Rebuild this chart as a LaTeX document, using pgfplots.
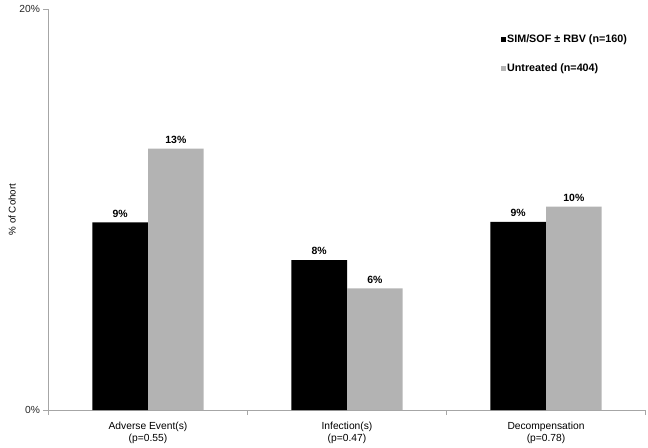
\documentclass[border=0pt]{standalone}
\usepackage{pgfplots}
\pgfplotsset{compat=1.18}
\usepackage{fontspec}
\setmainfont{Liberation Sans}
\definecolor{untreated}{RGB}{179,179,179}
\definecolor{axisgrey}{RGB}{166,166,166}

\begin{document}
\begin{tikzpicture}
\path[use as bounding box] (0,0) rectangle (648bp,448bp);
\begin{axis}[
  at={(48.5bp,38bp)}, anchor=south west,
  scale only axis,
  width=597bp, height=401bp,
  xmin=0.5, xmax=3.5,
  ymin=0, ymax=20,
  axis lines=left,
  axis line style={-, axisgrey},
  ybar=0pt, bar width=0.28,
  ytick={0,20}, yticklabels={0\%,20\%},
  xtick={0.5,1.5,2.5,3.5}, xticklabels={},
  extra x ticks={1,2,3},
  extra x tick labels={{Adverse Event(s)\\(p=0.55)},{Infection(s)\\(p=0.47)},{Decompensation\\(p=0.78)}},
  extra x tick style={tick style={draw=none}, tick label style={align=center, yshift=-4bp, font=\fontsize{10.3}{12}\selectfont}},
  tick align=outside,
  major tick length=5bp,
  tick style={axisgrey},
  yticklabel style={font=\fontsize{10.3}{12}\selectfont, text=black!85},
  ylabel={\% of Cohort},
  every axis y label/.style={at={(axis description cs:-0.0611,0.5)}, rotate=90, anchor=center,
    font=\fontsize{9.8}{12}\selectfont},
  nodes near coords,
  point meta=explicit symbolic,
  every node near coord/.append style={font=\bfseries\fontsize{10.5}{12}\selectfont, yshift=1.5bp},
  legend style={at={(0.757,0.94)}, anchor=north west, draw=none, fill=none,
    inner sep=0pt, row sep=16.5bp,
    font=\bfseries\fontsize{10.8}{12}\selectfont,
    nodes={inner sep=1.5pt}},
  legend cell align=left,
  legend image code/.code={\fill[#1] (0bp,-2.5bp) rectangle (5bp,2.5bp);},
  clip=false,
]
\addplot[fill=black, draw=none] coordinates {(1,9.36) [9\%] (2,7.48) [8\%] (3,9.38) [9\%]};
\addplot[fill=untreated, draw=none] coordinates {(1,13.03) [13\%] (2,6.07) [6\%] (3,10.14) [10\%]};
\legend{SIM/SOF ± RBV (n=160), Untreated (n=404)}
\end{axis}
\end{tikzpicture}
\end{document}
